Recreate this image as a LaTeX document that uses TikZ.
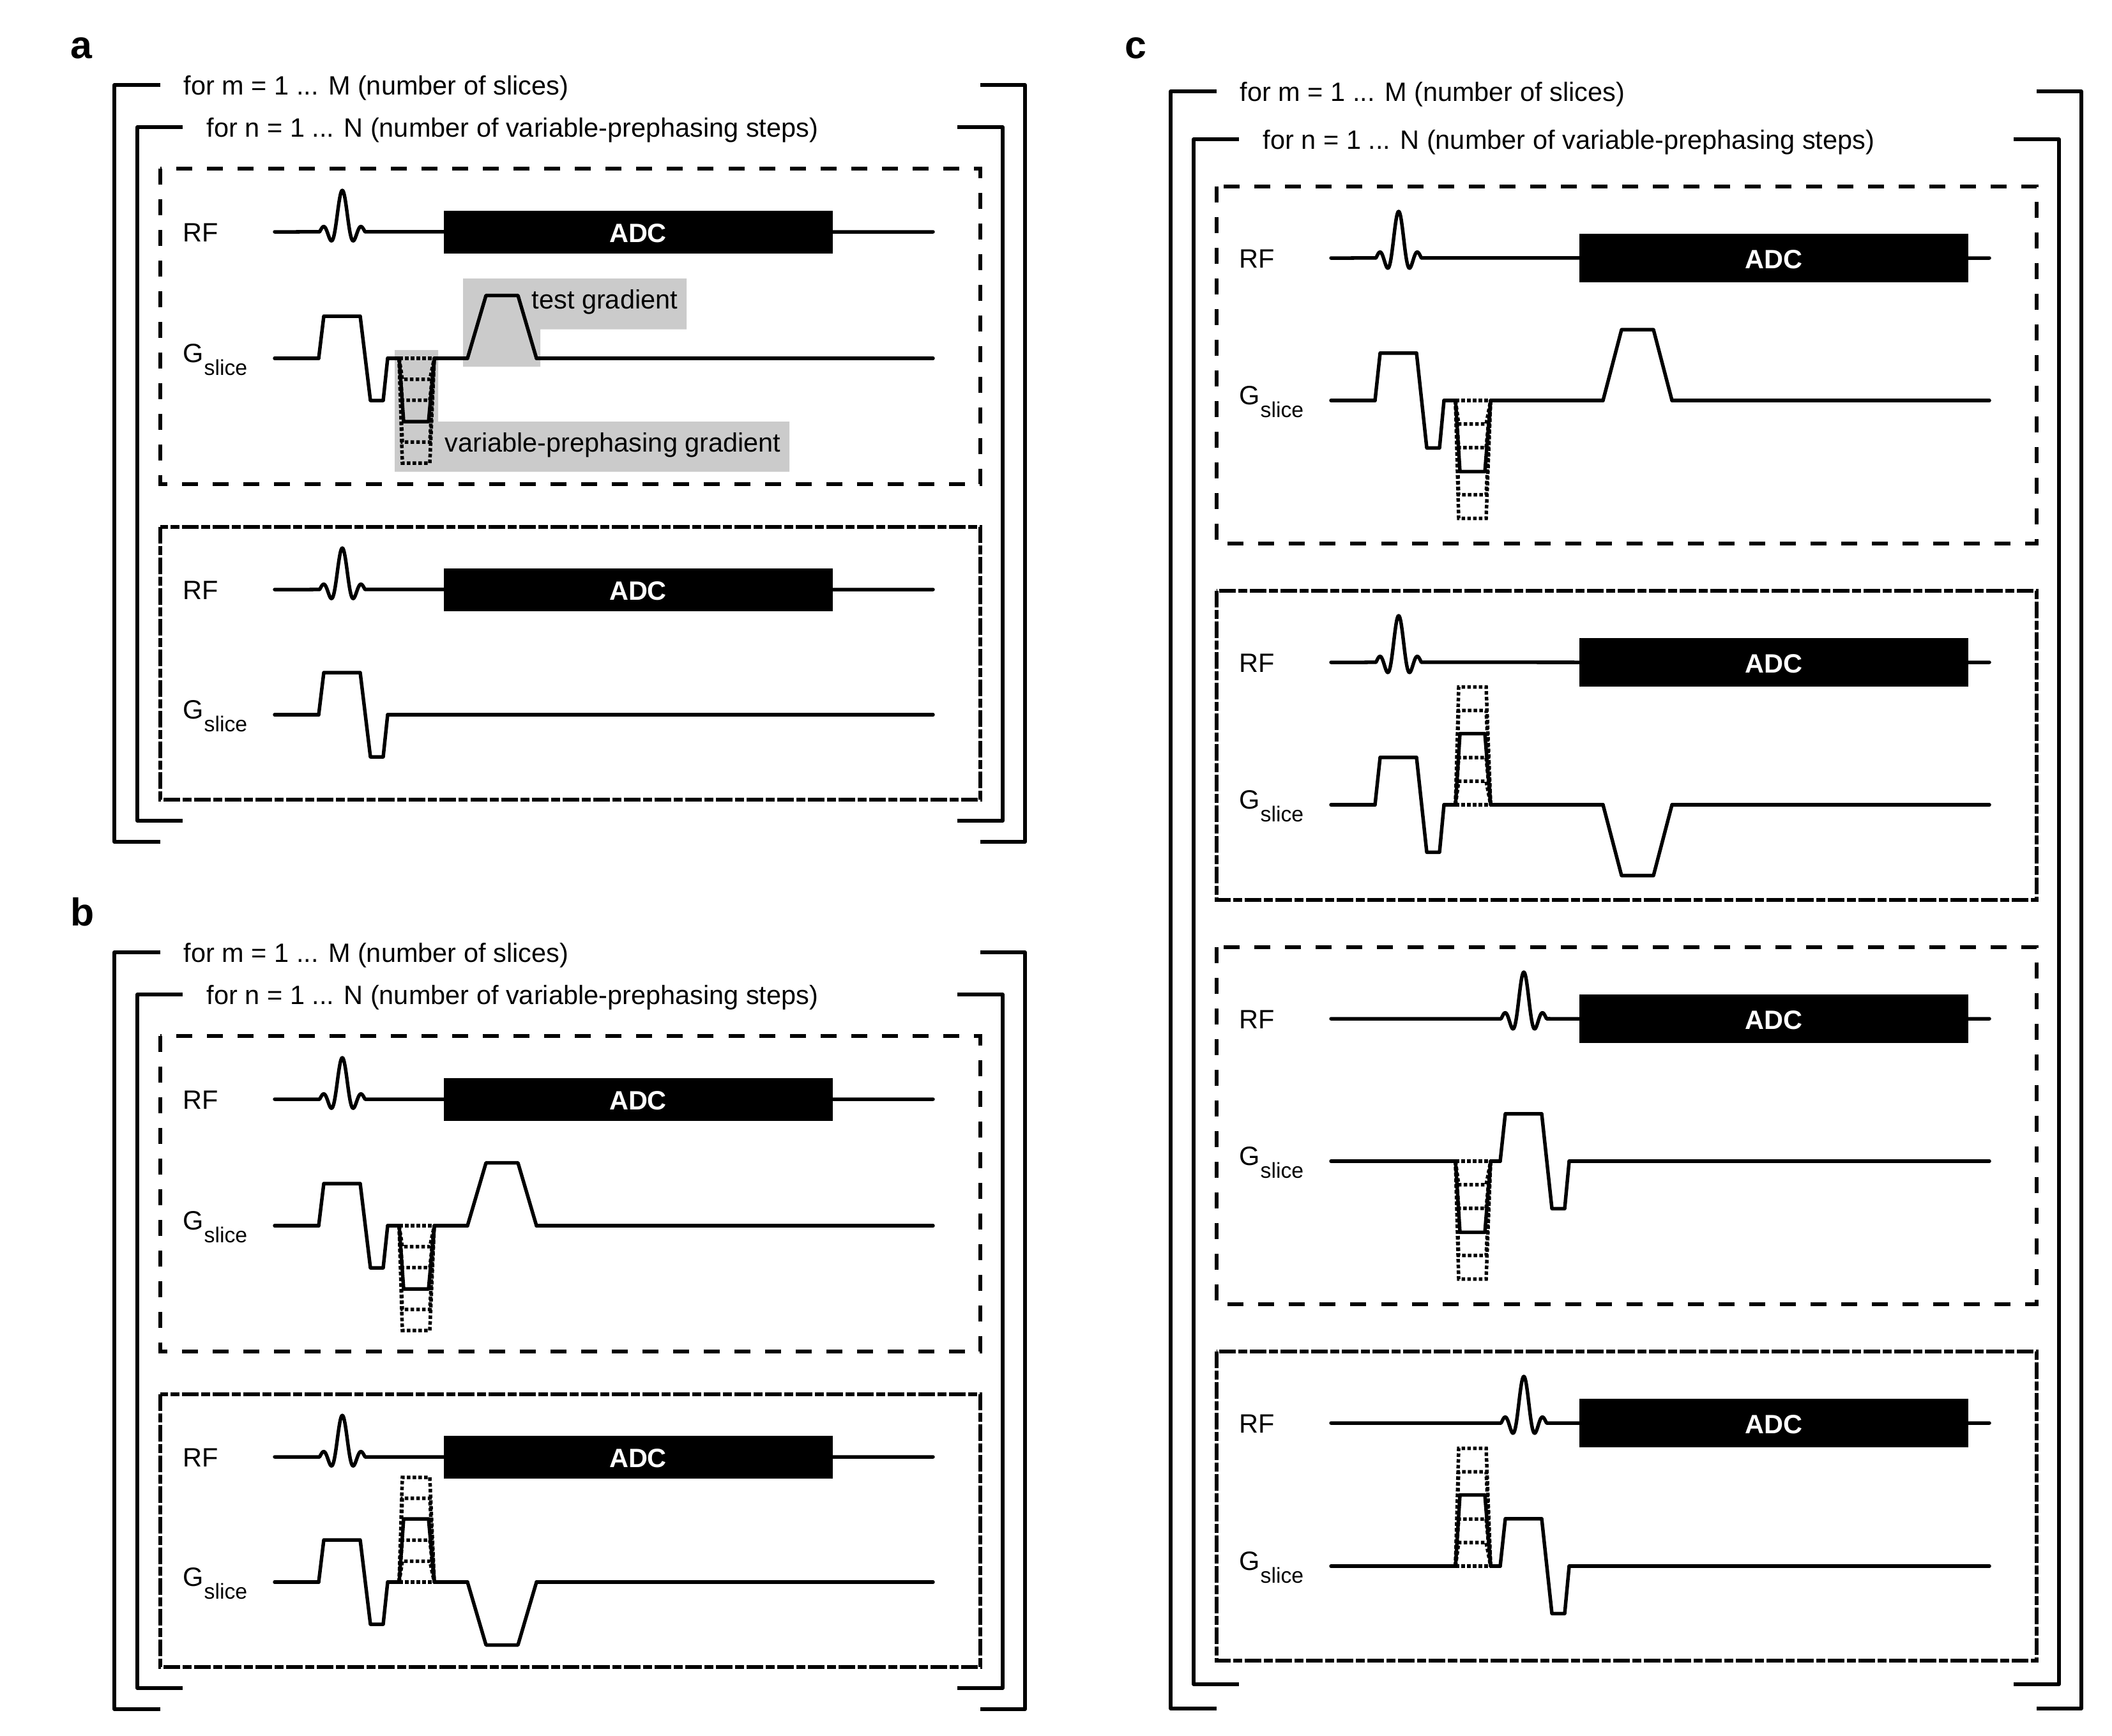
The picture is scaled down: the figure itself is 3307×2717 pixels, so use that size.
\documentclass[tikz,border=0pt]{standalone}
\usepackage{fontspec}
\setmainfont{Liberation Sans}
\definecolor{greyarea}{HTML}{CBCBCB}
\tikzset{
	wave/.style={line width=0.055cm, line join=round, line cap=round},
	varline/.style={line width=0.055cm, dash pattern=on 0.055cm off 0.035cm},
	bracket/.style={line width=0.055cm, line join=round},
	outerbox/.style={line width=0.055cm, dash pattern=on 0.25cm off 0.23cm},
	innerbox/.style={line width=0.055cm, dash pattern=on 0.26cm off 0.04cm on 0.14cm off 0.04cm},
	seqtext/.style={anchor=base west, inner sep=0pt, font=\fontsize{11.8}{14}\selectfont},
	subtext/.style={anchor=base west, inner sep=0pt, font=\fontsize{9.6}{12}\selectfont},
	adctext/.style={inner sep=0pt, text=white, font=\fontsize{11.8}{14}\selectfont\bfseries},
	paneltext/.style={anchor=base west, inner sep=0pt, font=\fontsize{17.3}{20}\selectfont\bfseries}
}
% RF line, pulse and ADC: baseline, scale, pulse centre, ADC shift
\newcommand{\rfrow}[4]{
	\node[seqtext] (rf#1) at (286, #1+15) {RF};
	\begin{scope}[shift={(0, #1)}, yscale=#2]
		\draw[wave] (430, 0) -- plot[domain=-9.42:9.42, samples=80] ({#3+3.77*\x}, {-65*sin(\x r)/(\x)}) -- (1461, 0);
		\fill (695+#4, -33.5) rectangle (1304+#4, 33.5);
		\node[adctext] (adc#1) at (999+#4, 2) {ADC};
	\end{scope}
}
\newcommand{\gslabel}[1]{
	\node[seqtext] (g#1) at (286, #1+6.5) {G};
	\node[subtext] (gsub#1) at (319, #1+26.5) {slice};
}
\newcommand{\slicelobe}[1]{\draw[wave] (499+#1, 0) -- (507+#1, -66) -- (564+#1, -66) -- (580+#1, 66) -- (600+#1, 66) -- (607+#1, 0);}
\newcommand{\testlobe}[2]{\draw[wave] (732+#1, 0) -- (761+#1, -98.5*#2) -- (811+#1, -98.5*#2) -- (840+#1, 0);}
\newcommand{\varsteps}[1]{
	\draw[varline] (625, 0) -- (680, 0);
	\foreach \lev in {1, 2, 4, 5}{\draw[varline] (625, 0) -- (630, #1*\lev*32.8) -- (673, #1*\lev*32.8) -- (680, 0);}
	\draw[wave] (625, 0) -- (632, #1*99) -- (671, #1*99) -- (680, 0);
}
% G row with the pulse lobe first: baseline, scale, test shift, sign
\newcommand{\earlyrow}[4]{
	\gslabel{#1}
	\begin{scope}[shift={(0, #1)}, yscale=#2]
		\draw[wave] (430, 0) -- (499, 0) (607, 0) -- (625, 0) (680, 0) -- (732+#3, 0) (840+#3, 0) -- (1461, 0);
		\slicelobe{0}
		\varsteps{#4}
		\testlobe{#3}{#4}
	\end{scope}
}
% G row with the pulse lobe after the steps: baseline, scale, sign
\newcommand{\laterow}[3]{
	\gslabel{#1}
	\begin{scope}[shift={(0, #1)}, yscale=#2]
		\draw[wave] (430, 0) -- (625, 0) (680, 0) -- (695, 0) (803, 0) -- (1461, 0);
		\slicelobe{196}
		\varsteps{#3}
	\end{scope}
}
% both loops: top outer, top inner, bottom inner, bottom outer
\newcommand{\loopframe}[4]{
	\draw[bracket] (251, #1) -- (179, #1) -- (179, #4) -- (251, #4);
	\draw[bracket] (1535, #1) -- (1605, #1) -- (1605, #4) -- (1535, #4);
	\draw[bracket] (286, #2) -- (215, #2) -- (215, #3) -- (286, #3);
	\draw[bracket] (1499, #2) -- (1570, #2) -- (1570, #3) -- (1499, #3);
	\node[seqtext] (mloop#1) at (287, #1+15) {for m = 1 ... M (number of slices)};
	\node[seqtext] (nloop#1) at (323, #2+15) {for n = 1 ... N (number of variable-prephasing steps)};
}
\begin{document}
\begin{tikzpicture}[x=0.01cm, y=-0.01cm]
	\useasboundingbox (0, 0) rectangle (3307, 2717);

	% panel a
	\node[paneltext] (panela) at (110, 91) {a};
	\loopframe{133}{199}{1285}{1318}
	\draw[outerbox] (251, 264) rectangle (1535, 758);
	\draw[innerbox] (251, 825) rectangle (1535, 1252);
	\fill[greyarea] (725, 436) -- (1075, 436) -- (1075, 515.5) -- (846, 515.5) -- (846, 574) -- (725, 574) -- cycle;
	\fill[greyarea] (618, 548) -- (686, 548) -- (686, 660) -- (1236, 660) -- (1236, 738.5) -- (618, 738.5) -- cycle;
	\node[seqtext] (testlabel) at (832, 483) {test gradient};
	\node[seqtext] (varlabel) at (696, 707) {variable-prephasing gradient};
	\rfrow{363}{1}{536}{0}
	\earlyrow{561}{1}{0}{1}
	\rfrow{923}{1}{536}{0}
	\gslabel{1119}
	\begin{scope}[shift={(0, 1119)}]
		\draw[wave] (430, 0) -- (499, 0) (607, 0) -- (1461, 0);
		\slicelobe{0}
	\end{scope}

	% panel b
	\begin{scope}[shift={(0, 1358)}]
		\node[paneltext] (panelb) at (110, 91) {b};
		\loopframe{133}{199}{1285}{1318}
		\draw[outerbox] (251, 264) rectangle (1535, 758);
		\draw[innerbox] (251, 825) rectangle (1535, 1252);
		\rfrow{363}{1}{536}{0}
		\earlyrow{561}{1}{0}{1}
		\rfrow{923}{1}{536}{0}
		\earlyrow{1119}{1}{0}{-1}
	\end{scope}

	% panel c
	\begin{scope}[shift={(1654, 0)}]
		\node[paneltext] (panelc) at (107, 91) {c};
		\loopframe{143}{218}{2637}{2675}
		\draw[outerbox] (251, 292) rectangle (1535, 851);
		\draw[innerbox] (251, 925) rectangle (1535, 1409);
		\draw[outerbox] (251, 1483) rectangle (1535, 2042);
		\draw[innerbox] (251, 2116) rectangle (1535, 2600);
		\rfrow{404}{1.125}{536}{124}
		\earlyrow{627}{1.125}{124}{1}
		\rfrow{1037}{1.125}{536}{124}
		\earlyrow{1260}{1.125}{124}{-1}
		\rfrow{1595}{1.125}{732}{124}
		\laterow{1818}{1.125}{1}
		\rfrow{2228}{1.125}{732}{124}
		\laterow{2452}{1.125}{-1}
	\end{scope}
\end{tikzpicture}
\end{document}
